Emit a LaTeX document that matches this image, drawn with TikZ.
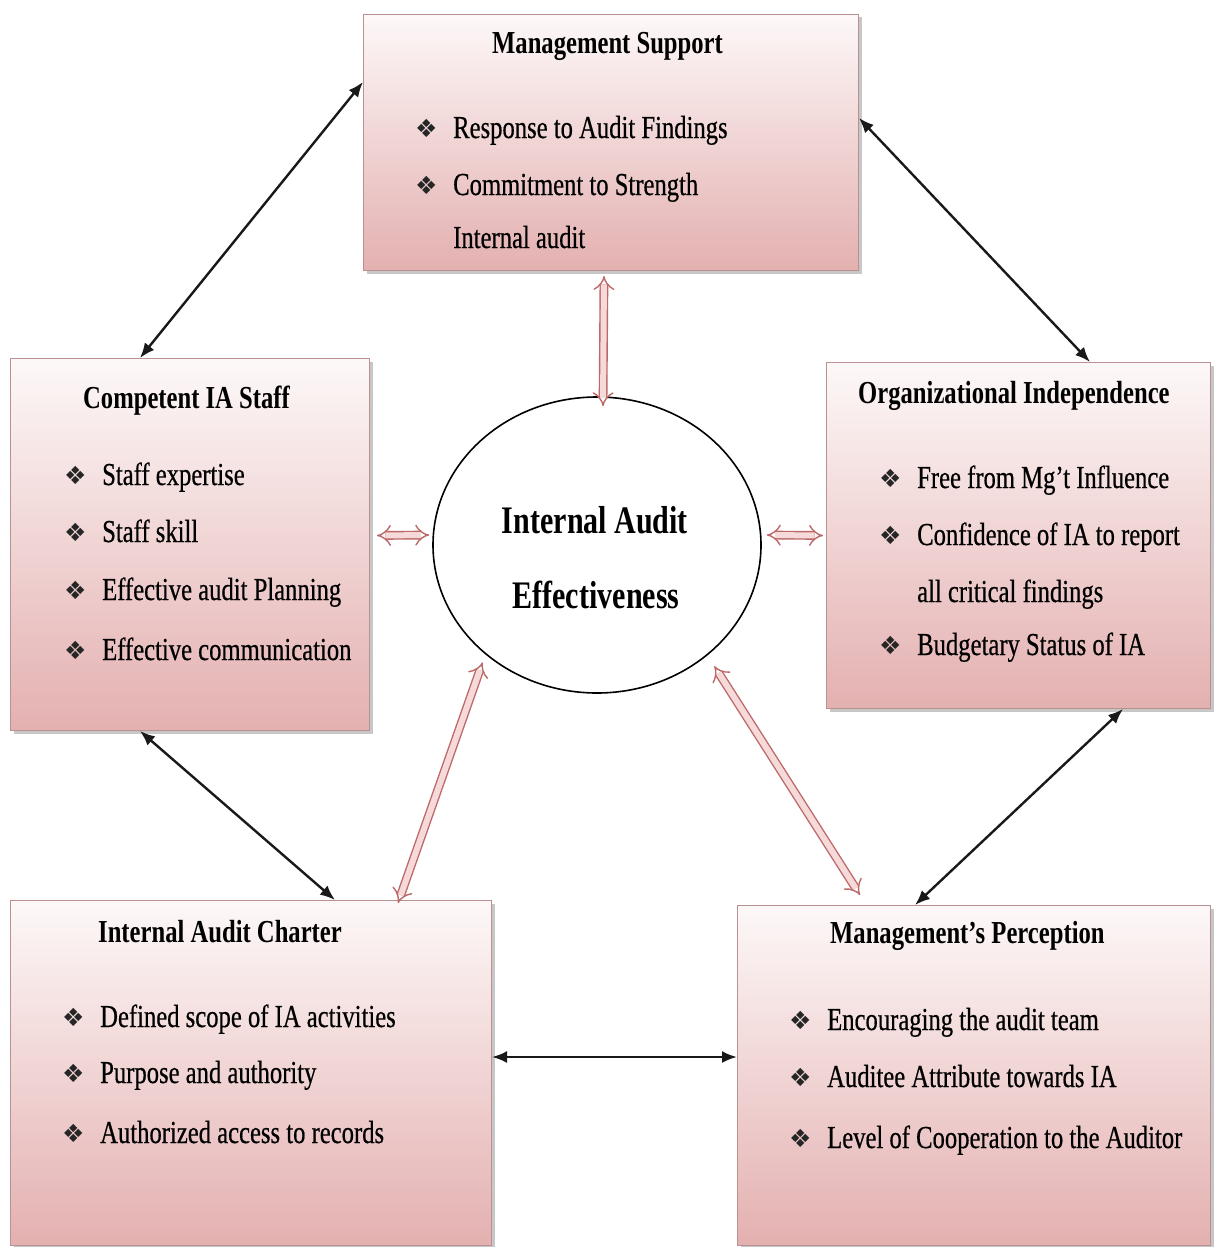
\documentclass[tikz,border=0pt]{standalone}
\usepackage{fontspec}
\setmainfont{Liberation Serif}[FakeStretch=0.77]
\newfontfamily\itemfont{Liberation Serif}[FakeStretch=0.77, FakeBold=0.5]
\newfontfamily\symfont{DejaVu Sans}
\usetikzlibrary{shapes.geometric,arrows.meta,shadows}
\definecolor{boxtop}{RGB}{253,248,248}
\definecolor{boxbot}{RGB}{228,176,176}
\definecolor{boxline}{RGB}{185,145,145}
\definecolor{hol}{RGB}{190,105,105}
\definecolor{holin}{RGB}{246,218,218}
\tikzset{
 box/.style={rectangle, draw=boxline, line width=1pt, top color=boxtop, bottom color=boxbot,
   anchor=north west, inner sep=0pt,
   drop shadow={shadow xshift=3pt, shadow yshift=-3pt, fill=black, opacity=0.22}},
 ttl/.style={anchor=base west, inner sep=0pt, font=\fontsize{32}{38}\selectfont\bfseries},
 itm/.style={anchor=base west, inner sep=0pt, font=\itemfont\fontsize{32}{38}\selectfont},
 bul/.style={anchor=base west, inner sep=0pt, font=\symfont\fontsize{25}{28}\selectfont, text=black!85},
 ctr/.style={anchor=base, inner sep=0pt, font=\fontsize{39}{46}\selectfont\bfseries},
 link/.style={draw=black!90, line width=2.4pt, {Latex[length=15pt,width=12pt]}-{Latex[length=15pt,width=12pt]}},
 hollow/.style={draw=hol, line width=1.4pt, double=holin, double distance=6pt, {Implies}-{Implies}},
}
\newcommand{\bitem}[4]{%
  \node[bul] (#1b) at ({#2-38},{#3-1}) {❖};
  \node[itm] (#1) at (#2,#3) {#4};}
\newcommand{\citem}[4]{\node[itm] (#1) at (#2,#3) {#4};}
\begin{document}
\begin{tikzpicture}[x=1pt,y=-1pt]
\path[use as bounding box, fill=white] (0,0) rectangle (1213,1247);

% boxes
\node[box, minimum width=495pt, minimum height=256pt] (ms) at (363,14) {};
\node[box, minimum width=359pt, minimum height=372pt] (cs) at (10,358) {};
\node[box, minimum width=384pt, minimum height=346pt] (oi) at (826,362) {};
\node[box, minimum width=481pt, minimum height=345pt] (ch) at (10,900) {};
\node[box, minimum width=473pt, minimum height=340pt] (mp) at (737,905) {};

% central ellipse
\node[draw, ellipse, line width=1.6pt, fill=white, minimum width=328pt, minimum height=296pt, inner sep=0pt] (ie) at (597,545) {};
\node[ctr] (iet1) at (595,533) {Internal Audit};
\node[ctr] (iet2) at (596,608) {Effectiveness};

% Management Support
\node[ttl] (mst) at (492,53) {Management Support};
\bitem{ms1}{453}{138}{Response to Audit Findings}
\bitem{ms2}{453}{195}{Commitment to Strength}
\citem{ms3}{453}{248}{Internal audit}

% Competent IA Staff
\node[ttl] (cst) at (83,408) {Competent IA Staff};
\bitem{cs1}{102}{485}{Staff expertise}
\bitem{cs2}{102}{542}{Staff skill}
\bitem{cs3}{102}{600}{Effective audit Planning}
\bitem{cs4}{102}{660}{Effective communication}

% Organizational Independence
\node[ttl] (oit) at (858,403) {Organizational Independence};
\bitem{oi1}{917}{488}{Free from Mg’t Influence}
\bitem{oi2}{917}{545}{Confidence of IA to report}
\citem{oi3}{917}{602}{all critical findings}
\bitem{oi4}{917}{655}{Budgetary Status of IA}

% Internal Audit Charter
\node[ttl] (cht) at (98,942) {Internal Audit Charter};
\bitem{ch1}{100}{1027}{Defined scope of IA activities}
\bitem{ch2}{100}{1083}{Purpose and authority}
\bitem{ch3}{100}{1143}{Authorized access to records}

% Management's Perception
\node[ttl] (mpt) at (830,943) {Management’s Perception};
\bitem{mp1}{827}{1030}{Encouraging the audit team}
\bitem{mp2}{827}{1087}{Auditee Attribute towards IA}
\bitem{mp3}{827}{1148}{Level of Cooperation to the Auditor}

% black links between boxes
\draw[link] ([yshift=-68pt]ms.north west) -- ([xshift=130pt]cs.north west);
\draw[link] ([yshift=-104pt]ms.north east) -- ([xshift=264pt]oi.north west);
\draw[link] ([xshift=130pt]cs.south west) -- ([xshift=325pt]ch.north west);
\draw[link] ([xshift=297pt]oi.south west) -- ([xshift=178pt]mp.north west);
\draw[link] ([yshift=-157pt]ch.north east) -- ([yshift=-152pt]mp.north west);

% hollow links to the centre
\draw[hollow] ([xshift=-7pt,yshift=-5pt]ms.south) -- ([xshift=6pt,yshift=-10pt]ie.north);
\draw[hollow] ([xshift=7pt,yshift=9pt]cs.east) -- ([xshift=-3pt,yshift=10pt]ie.west);
\draw[hollow] ([xshift=5pt,yshift=10pt]ie.east) -- ([xshift=-3pt]oi.west);
\draw[hollow] ([xshift=388pt,yshift=-3pt]ch.north west) -- ([xshift=-4pt,yshift=-7pt]ie.225);
\draw[hollow] ([xshift=9pt,yshift=-9pt]ie.-46) -- ([xshift=123pt,yshift=10pt]mp.north west);
\end{tikzpicture}
\end{document}
